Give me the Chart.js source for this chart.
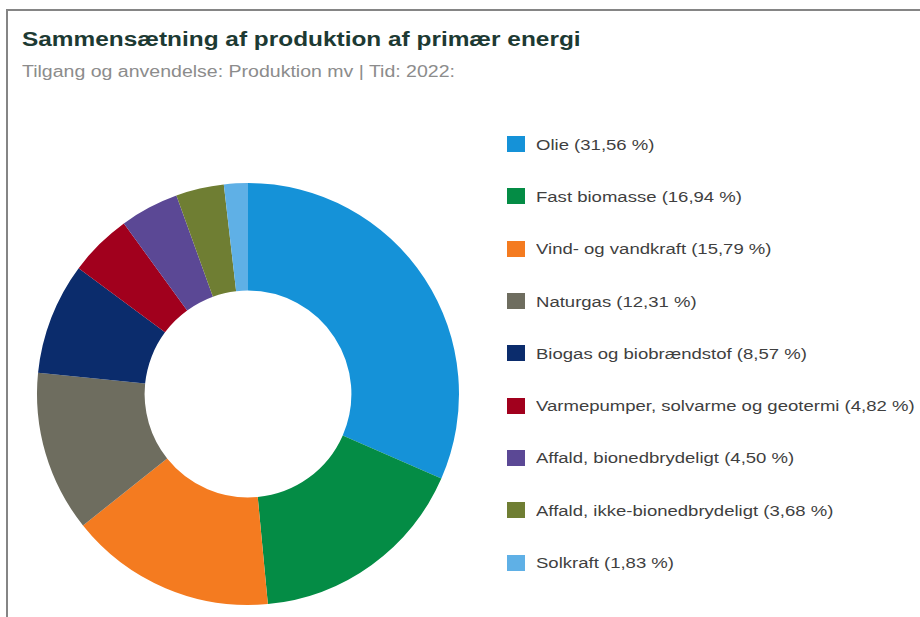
<!DOCTYPE html>
<html>
<head>
<meta charset="utf-8">
<script src="https://cdn.jsdelivr.net/npm/chart.js@4"></script>
<style>
  html, body { margin:0; padding:0; background:#fff; }
  body { width:920px; height:617px; position:relative; overflow:hidden; font-family:"Liberation Sans", Arial, sans-serif; }
  .frame { position:absolute; left:6px; top:9px; width:930px; height:640px; border-top:2px solid #858585; border-left:2px solid #858585; }
  .wide { display:inline-block; transform:scaleX(1.22); transform-origin:left center; white-space:nowrap; }
  h1 { position:absolute; left:22px; top:28px; margin:0; font-size:20px; font-weight:bold; color:#1d3a33; white-space:nowrap; }
  .sub { position:absolute; left:22px; top:63px; font-size:16px; color:#8c8c8c; white-space:nowrap; }
  #wrap { position:absolute; left:27px; top:173px; width:442px; height:442px; }
  #legend { position:absolute; left:507px; top:118px; margin:0; padding:0; list-style:none; }
  #legend li { height:52.3px; display:flex; align-items:center; font-size:15.2px; color:#3f3f3f; white-space:nowrap; }
  #legend .box { width:18px; height:16px; margin-right:11px; flex:none; }
</style>
</head>
<body>
<div class="frame"></div>
<h1><span class="wide">Sammensætning af produktion af primær energi</span></h1>
<div class="sub"><span class="wide">Tilgang og anvendelse: Produktion mv | Tid: 2022:</span></div>
<div id="wrap"><canvas id="chart"></canvas></div>
<ul id="legend"></ul>
<script>
// energy sources, 2022, share of primary production (%)
const categories = [
  'Olie', 'Fast biomasse', 'Vind- og vandkraft', 'Naturgas',
  'Biogas og biobrændstof', 'Varmepumper, solvarme og geotermi',
  'Affald, bionedbrydeligt', 'Affald, ikke-bionedbrydeligt', 'Solkraft'
];
const shares = [31.56, 16.94, 15.79, 12.31, 8.57, 4.82, 4.50, 3.68, 1.83];
const colors = ['#1592d8', '#048c45', '#f47b20', '#6e6d5f', '#0b2c6c', '#a1001d', '#5b4895', '#6f7e33', '#5fb0e6'];

const fmt = v => v.toFixed(2).replace('.', ',');

const ctx = document.getElementById('chart').getContext('2d');
const chart = new Chart(ctx, {
  type: 'doughnut',
  data: {
    labels: categories,
    datasets: [{
      data: shares,
      backgroundColor: colors,
      borderWidth: 0
    }]
  },
  options: {
    responsive: true,
    maintainAspectRatio: false,
    animation: false,
    cutout: '49%',
    layout: { padding: 10 },
    plugins: {
      legend: { display: false },
      tooltip: { enabled: false }
    }
  }
});

// html legend built from the chart's own labels
const legendEl = document.getElementById('legend');
Chart.overrides.doughnut.plugins.legend.labels.generateLabels(chart).forEach((item, i) => {
  const li = document.createElement('li');
  const box = document.createElement('span');
  box.className = 'box';
  box.style.background = item.fillStyle;
  const txt = document.createElement('span');
  txt.className = 'wide';
  txt.textContent = categories[i] + ' (' + fmt(shares[i]) + ' %)';
  li.appendChild(box);
  li.appendChild(txt);
  legendEl.appendChild(li);
});
</script>
</body>
</html>
